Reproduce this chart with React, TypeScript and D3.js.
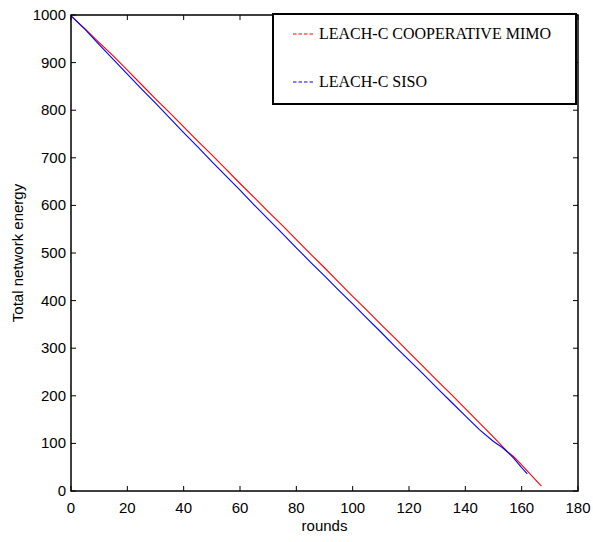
import { useEffect, useRef } from "react";
import * as d3 from "d3";

// rounds / total network energy
const MIMO_ROUNDS = [0, 5, 10, 15, 20, 25, 30, 35, 40, 45, 50, 55, 60, 65, 70, 75, 80, 85, 90, 95, 100, 105, 110, 115, 120, 125, 130, 135, 140, 145, 150, 153, 155, 157, 160, 165, 167];
const MIMO_ENERGY = [998, 971, 942, 914, 884, 854, 824, 795, 765, 735, 706, 676, 646, 617, 587, 558, 528, 498, 469, 439, 409, 380, 350, 321, 291, 262, 232, 203, 173, 143, 113, 95, 82, 73, 55, 23, 10];

const SISO_ROUNDS = [0, 5, 10, 15, 20, 25, 30, 35, 40, 45, 50, 55, 60, 65, 70, 75, 80, 85, 90, 95, 100, 105, 110, 115, 120, 125, 130, 135, 140, 145, 150, 153, 155, 157, 160, 162];
const SISO_ENERGY = [998, 970, 938, 907, 876, 845, 815, 784, 753, 723, 692, 662, 632, 601, 571, 541, 511, 481, 452, 422, 393, 363, 334, 304, 275, 246, 216, 187, 158, 129, 104, 92, 82, 70, 49, 36];

const X_TICKS = [0, 20, 40, 60, 80, 100, 120, 140, 160, 180];
const Y_TICKS = [0, 100, 200, 300, 400, 500, 600, 700, 800, 900, 1000];

const SERIES = [
  { name: "LEACH-C COOPERATIVE MIMO", color: "#ff0000", rounds: MIMO_ROUNDS, energy: MIMO_ENERGY },
  { name: "LEACH-C SISO", color: "#0000ff", rounds: SISO_ROUNDS, energy: SISO_ENERGY },
];

const W = 593;
const H = 542;
const SANS = "Arial, 'Liberation Sans', sans-serif";
const SERIF = "'Times New Roman', 'Liberation Serif', serif";

function buildChart(svgEl: SVGSVGElement) {
  const margin = { top: 15, right: 15, bottom: 51, left: 71 };
  const innerW = W - margin.left - margin.right;
  const innerH = H - margin.top - margin.bottom;

  const svg = d3.select(svgEl);
  svg.selectAll("*").remove();
  svg.append("rect").attr("width", W).attr("height", H).attr("fill", "#fff");

  const g = svg.append("g").attr("transform", `translate(${margin.left},${margin.top})`);

  const x = d3.scaleLinear().domain([0, 180]).range([0, innerW]);
  const y = d3.scaleLinear().domain([0, 1000]).range([innerH, 0]);

  // lines
  const line = d3.line<[number, number]>().x(d => x(d[0])).y(d => y(d[1]));
  SERIES.forEach(s => {
    const pts: [number, number][] = s.rounds.map((r, i) => [r, s.energy[i]]);
    g.append("path")
      .attr("d", line(pts))
      .attr("fill", "none")
      .attr("stroke", s.color)
      .attr("stroke-width", 1.1);
  });

  // MATLAB-style box with inward ticks on all sides
  const tk = 5;
  const axisG = g.append("g").attr("stroke", "#000").attr("stroke-width", 1);
  X_TICKS.forEach(t => {
    axisG.append("line").attr("x1", x(t)).attr("x2", x(t)).attr("y1", innerH).attr("y2", innerH - tk);
    axisG.append("line").attr("x1", x(t)).attr("x2", x(t)).attr("y1", 0).attr("y2", tk);
  });
  Y_TICKS.forEach(t => {
    axisG.append("line").attr("x1", 0).attr("x2", tk).attr("y1", y(t)).attr("y2", y(t));
    axisG.append("line").attr("x1", innerW).attr("x2", innerW - tk).attr("y1", y(t)).attr("y2", y(t));
  });
  g.append("rect")
    .attr("width", innerW).attr("height", innerH)
    .attr("fill", "none").attr("stroke", "#000").attr("stroke-width", 1.5);

  // tick labels
  X_TICKS.forEach(t => {
    g.append("text")
      .attr("x", x(t)).attr("y", innerH + 22)
      .attr("text-anchor", "middle")
      .style("font-family", SANS).style("font-size", "15px")
      .attr("fill", "#000")
      .text(t);
  });
  Y_TICKS.forEach(t => {
    g.append("text")
      .attr("x", -5).attr("y", y(t) + 5)
      .attr("text-anchor", "end")
      .style("font-family", SANS).style("font-size", "15px")
      .attr("fill", "#000")
      .text(t);
  });

  // axis titles
  svg.append("text")
    .attr("x", margin.left + innerW / 2).attr("y", H - 11)
    .attr("text-anchor", "middle")
    .style("font-family", SANS).style("font-size", "15px")
    .text("rounds");
  svg.append("text")
    .attr("transform", `translate(23,${margin.top + innerH / 2}) rotate(-90)`)
    .attr("text-anchor", "middle")
    .style("font-family", SANS).style("font-size", "15px")
    .text("Total network energy");

  // legend
  const lg = svg.append("g").attr("transform", "translate(273,14)");
  lg.append("rect")
    .attr("width", 303).attr("height", 90)
    .attr("fill", "#fff").attr("stroke", "#000").attr("stroke-width", 2);
  SERIES.forEach((s, i) => {
    const ly = 20 + i * 48;
    lg.append("line")
      .attr("x1", 20).attr("x2", 41).attr("y1", ly).attr("y2", ly)
      .attr("stroke", s.color).attr("stroke-width", 1)
      .attr("stroke-dasharray", "3.5 2");
    lg.append("text")
      .attr("x", 46).attr("y", ly + 5)
      .style("font-family", SERIF).style("font-size", "16px")
      .attr("fill", "#000")
      .text(s.name);
  });
}

export default function App() {
  const svgRef = useRef<SVGSVGElement>(null);

  useEffect(() => {
    if (svgRef.current) buildChart(svgRef.current);
  }, []);

  return (
    <svg
      ref={svgRef}
      width={W}
      height={H}
      style={{ position: "absolute", left: 0, top: 0, display: "block" }}
    />
  );
}
